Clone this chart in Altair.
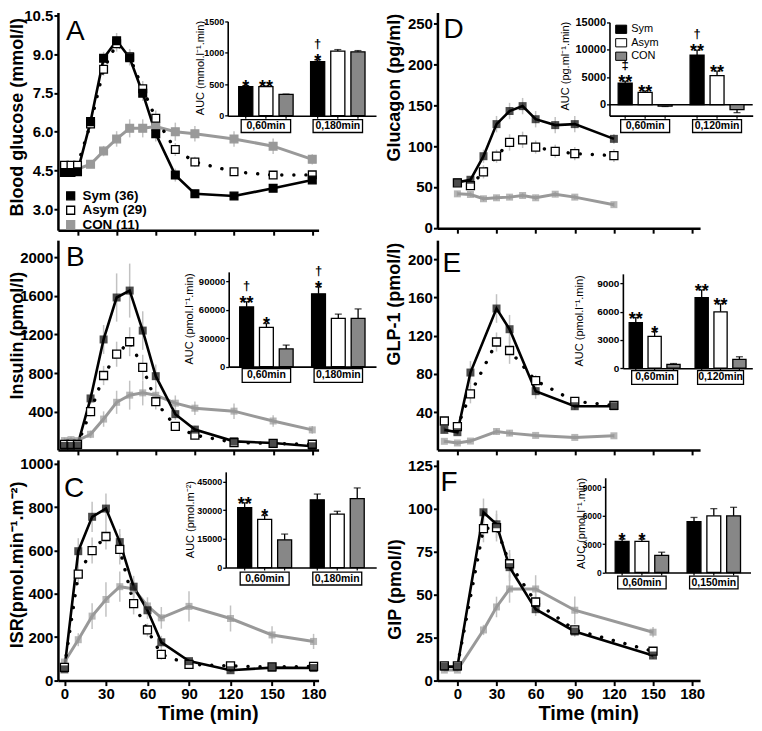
import altair as alt
import pandas as pd

FONT = "Liberation Sans"
SERIES = ["Sym", "Asym", "CON"]
GREY = "#999999"
BAR_GREY = "#878787"
ERR_GREY = "#c2c2c2"
TIME_TICKS = [0, 30, 60, 90, 120, 150, 180]

# ---------------- time courses (mean, SEM) ----------------
A_time = [-10, -5, 0, 10, 20, 30, 40, 50, 60, 75, 90, 120, 150, 180]
A_sym = [4.42, 4.42, 4.45, 6.39, 8.84, 9.52, 8.86, 7.49, 5.92, 4.32, 3.60, 3.51, 3.81, 4.13]
A_asym = [4.70, 4.70, 4.70, 6.30, 8.42, 9.40, 8.90, 7.66, 6.52, 5.31, 4.83, 4.45, 4.32, 4.33]
A_con = [4.50, 4.50, 4.55, 4.74, 5.25, 5.72, 6.13, 6.13, 6.20, 6.00, 5.92, 5.72, 5.44, 4.93]
A_sym_e = [0.1, 0.1, 0.1, 0.2, 0.25, 0.3, 0.3, 0.3, 0.3, 0.25, 0.15, 0.15, 0.12, 0.12]
A_asym_e = [0.1, 0.1, 0.1, 0.2, 0.25, 0.3, 0.3, 0.3, 0.3, 0.25, 0.2, 0.15, 0.15, 0.12]
A_con_e = [0.1, 0.1, 0.1, 0.15, 0.2, 0.3, 0.35, 0.35, 0.35, 0.35, 0.3, 0.3, 0.3, 0.2]

B_time = [-10, -5, 0, 10, 20, 30, 40, 50, 60, 75, 90, 120, 150, 180]
B_sym = [45, 45, 50, 537, 1149, 1584, 1656, 1241, 768, 374, 214, 92, 75, 41]
B_asym = [60, 60, 60, 401, 775, 996, 1125, 860, 503, 248, 156, 80, 70, 62]
B_con = [100, 110, 100, 165, 323, 497, 571, 595, 570, 488, 436, 405, 303, 211]
B_sym_e = [20, 20, 20, 60, 150, 250, 280, 200, 120, 60, 40, 20, 15, 10]
B_asym_e = [15, 15, 15, 50, 100, 130, 150, 130, 80, 40, 30, 15, 15, 10]
B_con_e = [30, 30, 30, 40, 80, 120, 150, 130, 100, 80, 70, 80, 60, 40]

C_time = [0, 10, 20, 30, 40, 50, 60, 70, 90, 120, 150, 180]
C_sym = [51, 597, 756, 794, 639, 433, 324, 176, 89, 47, 59, 57]
C_asym = [60, 491, 600, 665, 605, 355, 233, 120, 74, 67, 62, 65]
C_con = [85, 188, 297, 374, 433, 423, 344, 289, 342, 286, 210, 180]
C_sym_e = [10, 60, 70, 70, 60, 50, 40, 30, 15, 10, 10, 10]
C_asym_e = [10, 50, 60, 60, 70, 50, 30, 25, 15, 10, 10, 10]
C_con_e = [15, 30, 60, 80, 70, 40, 40, 50, 70, 60, 40, 35]

D_time = [0, 10, 20, 30, 40, 50, 60, 75, 90, 120]
D_sym = [55.6, 58.8, 87.6, 126.8, 142.8, 148.8, 132.8, 125.6, 126.8, 108.8]
D_asym = [55.0, 51.6, 68.4, 87.6, 104.4, 107.6, 98.8, 93.6, 90.8, 88.4]
D_con = [41.6, 40.8, 35.6, 36.8, 37.6, 39.6, 36.8, 41.2, 37.6, 28.4]
D_sym_e = [4, 4, 8, 10, 10, 10, 10, 10, 10, 6]
D_asym_e = [4, 4, 8, 8, 10, 10, 8, 8, 8, 8]
D_con_e = [3, 3, 3, 3, 3, 3, 3, 3, 3, 3]

E_time = [-10, 0, 10, 30, 40, 60, 90, 120]
E_sym = [21.3, 18.9, 81.4, 148.5, 126.8, 61.9, 46.1, 46.1]
E_asym = [30.6, 24.7, 59.1, 113.4, 104.5, 72.9, 51.2, 47.0]
E_con = [9.3, 7.6, 9.6, 19.6, 17.9, 15.5, 13.4, 15.1]
E_sym_e = [3, 3, 12, 15, 15, 8, 4, 4]
E_asym_e = [3, 3, 10, 10, 14, 6, 4, 4]
E_con_e = [2, 2, 2, 3, 3, 2, 2, 2]

F_time = [-10, 0, 20, 30, 40, 60, 90, 150]
F_sym = [8.0, 8.0, 98.0, 91.0, 66.0, 41.5, 28.5, 14.5]
F_asym = [8.5, 8.5, 88.5, 89.0, 68.0, 45.7, 29.4, 17.0]
F_con = [6.0, 6.0, 29.4, 42.8, 53.3, 53.3, 40.9, 28.1]
F_sym_e = [2, 2, 8, 8, 8, 4, 3, 2]
F_asym_e = [2, 2, 8, 8, 8, 5, 3, 2]
F_con_e = [1, 1, 3, 6, 8, 8, 8, 3]

LEGEND_N = {"Sym": 36, "Asym": 29, "CON": 11}

# ---------------- AUC insets (mean, SEM, significance marks) ----------------
A_groups = ["0,60min", "0,180min"]
A_auc = {"Sym": [464, 859], "Asym": [464, 1026], "CON": [339, 1015]}
A_auc_e = {"Sym": [15, 30], "Asym": [10, 25], "CON": [5, 20]}
A_star = {"Sym": ["*", "*"], "Asym": ["**", ""], "CON": ["", ""]}
A_dag = {"Sym": ["", "†"], "Asym": ["", ""], "CON": ["", ""]}

B_groups = ["0,60min", "0,180min"]
B_auc = {"Sym": [63000, 76800], "Asym": [41500, 50900], "CON": [18700, 50900]}
B_auc_e = {"Sym": [5500, 7500], "Asym": [4000, 4500], "CON": [4000, 10000]}
B_star = {"Sym": ["**", "*"], "Asym": ["*", ""], "CON": ["", ""]}
B_dag = {"Sym": ["†", "†"], "Asym": ["", ""], "CON": ["", ""]}

C_groups = ["0,60min", "0,180min"]
C_auc = {"Sym": [31300, 35400], "Asym": [25200, 27900], "CON": [14500, 36000]}
C_auc_e = {"Sym": [2500, 3000], "Asym": [2000, 1500], "CON": [3000, 5600]}
C_star = {"Sym": ["**", ""], "Asym": ["*", ""], "CON": ["", ""]}
C_dag = {"Sym": ["", ""], "Asym": ["", ""], "CON": ["", ""]}

D_groups = ["0,60min", "0,120min"]
D_auc = {"Sym": [3900, 9000], "Asym": [2250, 5300], "CON": [-250, -900]}
D_auc_e = {"Sym": [350, 900], "Asym": [250, 800], "CON": [80, 550]}
D_star = {"Sym": ["**", "**"], "Asym": ["**", "**"], "CON": ["", ""]}
D_dag = {"Sym": ["‡", "†"], "Asym": ["", ""], "CON": ["", ""]}

E_groups = ["0,60min", "0,120min"]
E_auc = {"Sym": [4830, 7470], "Asym": [3370, 5980], "CON": [420, 940]}
E_auc_e = {"Sym": [540, 830], "Asym": [520, 850], "CON": [80, 280]}
E_star = {"Sym": ["**", "**"], "Asym": ["*", "**"], "CON": ["", ""]}
E_dag = {"Sym": ["", ""], "Asym": ["", ""], "CON": ["", ""]}

F_groups = ["0,60min", "0,150min"]
F_auc = {"Sym": [3280, 5360], "Asym": [3280, 5980], "CON": [1800, 5980]}
F_auc_e = {"Sym": [250, 450], "Asym": [250, 760], "CON": [340, 900]}
F_star = {"Sym": ["*", ""], "Asym": ["*", ""], "CON": ["", ""]}
F_dag = {"Sym": ["", ""], "Asym": ["", ""], "CON": ["", ""]}

# ---------------- layout (reference pixel calibration) ----------------
K = 0.985
REF_TOP = 4.0
COL_LEFT = {"L": 57, "R": 437}
COL_W = {"L": 261, "R": 263}
PANEL = {
    "A": ("L", 0, 218), "B": ("L", 228, 210), "C": ("L", 448, 221),
    "D": ("R", 0, 216), "E": ("R", 228, 210), "F": ("R", 448, 221),
}
VSPACE = 10
GAP = COL_LEFT["R"] - (COL_LEFT["L"] + COL_W["L"])

BAR_FILL = {"Sym": "black", "Asym": "white", "CON": BAR_GREY}


def ry(ref_y, top):
    return (ref_y - REF_TOP) * K - top


def main_layer(key, time, vals, errs, ycal, xcal, yticks, yfmt, ytitle, ytitle_ref,
               letter_ref, xtitle_ref=None, legend=False):
    col, top, H = PANEL[key]
    left, W = COL_LEFT[col], COL_W[col]
    (v1, p1), (v2, p2) = ycal
    slope = (v2 - v1) / (p2 - p1)
    ydom = [v1 + (REF_TOP + (top + H) / K - p1) * slope, v1 + (REF_TOP + top / K - p1) * slope]
    t0, per = xcal
    xdom = [(left - t0) / per, (left + W - t0) / per]

    rows = []
    for s in SERIES:
        for t, v, e in zip(time, vals[s], errs[s]):
            rows.append({"t": t, "v": v, "lo": v - e, "hi": v + e, "series": s})
    df = pd.DataFrame(rows)

    xkw = dict(values=TIME_TICKS, tickSize=5, tickWidth=2, tickColor="black", domainWidth=2.5,
               domainColor="black", grid=False, labelFlush=False, labelOverlap=False)
    if xtitle_ref:
        xkw.update(labels=True, format="d", labelFont=FONT, labelFontSize=15, labelFontWeight="bold",
                   labelColor="black", labelPadding=1, title="Time (min)", titleFont=FONT,
                   titleFontSize=20, titleFontWeight="bold", titleColor="black",
                   titleX=xtitle_ref[0] - left, titleY=ry(xtitle_ref[1], top) - H,
                   titleBaseline="middle", titleAlign="center")
    else:
        xkw.update(labels=False, title=None)
    X = alt.X("t:Q", scale=alt.Scale(domain=xdom, nice=False, zero=False), axis=alt.Axis(**xkw))
    yaxis = alt.Axis(values=yticks, format=yfmt, tickSize=4, tickWidth=2, tickColor="black",
                     domainWidth=2.5, domainColor="black", grid=False, labelFont=FONT,
                     labelFontSize=15, labelFontWeight="bold", labelColor="black", labelPadding=1,
                     labelOverlap=False, labelFlush=False, title=ytitle, titleFont=FONT,
                     titleFontSize=18, titleFontWeight="bold", titleColor="black", titleAngle=-90,
                     titleX=ytitle_ref[0] - left, titleY=ry(ytitle_ref[1], top),
                     titleBaseline="middle", titleAlign="center")
    yscale = alt.Scale(domain=ydom, nice=False, zero=False)
    Yv = alt.Y("v:Q", scale=yscale, axis=yaxis)
    Ylo = alt.Y("lo:Q", scale=yscale, axis=yaxis)

    base = alt.Chart(df)
    layers = [base.mark_rule(color=ERR_GREY, strokeWidth=1.5).encode(x=X, y=Ylo, y2="hi:Q")]
    line_style = {
        "CON": dict(color=GREY, strokeWidth=3),
        "Asym": dict(color="black", strokeWidth=3.4, strokeDash=[0.1, 12], strokeCap="round"),
        "Sym": dict(color="black", strokeWidth=2.6),
    }
    for s in ["CON", "Asym", "Sym"]:
        layers.append(base.transform_filter(alt.datum.series == s)
                      .mark_line(**line_style[s]).encode(x=X, y=Yv))
    if legend:
        order = {"CON": 0, "Asym": 1, "Sym": 2}
        pdf = df.assign(o=df.series.map(order)).sort_values("o", kind="stable")
        expr = ("datum.label == 'Sym' ? 'Sym (%d)' : datum.label == 'Asym' ? 'Asym (%d)' : 'CON (%d)'"
                % (LEGEND_N["Sym"], LEGEND_N["Asym"], LEGEND_N["CON"]))
        leg = alt.Legend(orient="none", legendX=6, legendY=ry(183.5, top), title=None,
                         symbolType="square", symbolSize=64, symbolStrokeWidth=1.3,
                         labelFont=FONT, labelFontSize=13.5, labelFontWeight="bold",
                         labelColor="black", labelExpr=expr, labelOffset=5, rowPadding=-0.5,
                         padding=0)
        layers.append(alt.Chart(pdf).mark_square(size=60, strokeWidth=1.3, opacity=1).encode(
            x=X, y=Yv,
            fill=alt.Fill("series:N", scale=alt.Scale(domain=SERIES, range=["black", "white", GREY]), legend=leg),
            stroke=alt.Stroke("series:N", scale=alt.Scale(domain=SERIES, range=["black", "black", GREY]), legend=leg),
        ))
    else:
        pstyle = {
            "CON": dict(size=49, color=GREY),
            "Asym": dict(size=64, fill="white", stroke="black", strokeWidth=1.3, opacity=1),
            "Sym": dict(size=64, color="black"),
        }
        for s in ["CON", "Asym", "Sym"]:
            layers.append(base.transform_filter(alt.datum.series == s)
                          .mark_square(**pstyle[s]).encode(x=X, y=Yv))
    layers.append(alt.Chart(pd.DataFrame({"lab": [key]})).mark_text(
        font=FONT, fontSize=28, align="left", baseline="alphabetic", color="black").encode(
        text="lab:N", x=alt.value(letter_ref[0] - left), y=alt.value(ry(letter_ref[1], top))))
    return alt.layer(*layers)


INSET = {
    "A": dict(axis_x=227, y_lo=109, y_hi=13, dom=[0, 1500], ticks=[0, 500, 1000, 1500], b0=238,
              step=72, bw=54.5, box=(113, 126), title="AUC (mmol.l⁻¹.min)", title_ref=(200, 60), lab=9),
    "B": dict(axis_x=228, y_lo=364, y_hi=267.7, dom=[0, 100000], ticks=[0, 30000, 60000, 90000],
              b0=239, step=72, bw=53.5, box=(366, 380), title="AUC (pmol.l⁻¹.min)", title_ref=(189, 315), lab=9.5),
    "C": dict(axis_x=225, y_lo=568.3, y_hi=471, dom=[0, 50000], ticks=[0, 15000, 30000, 45000],
              b0=237, step=72.7, bw=54, box=(573, 586), title="AUC (pmol.m⁻²)", title_ref=(190, 519), lab=9),
    "D": dict(axis_x=609.3, y_lo=108.9, y_hi=14, dom=[-2000, 15000], ticks=[0, 5000, 10000, 15000],
              b0=618, step=72, bw=54, box=(113, 126), title="AUC (pg.ml⁻¹.min)", title_ref=(565, 58), lab=11),
    "E": dict(axis_x=622.7, y_lo=365.7, y_hi=269.7, dom=[0, 10000], ticks=[0, 3000, 6000, 9000],
              b0=629, step=66, bw=51, box=(368, 382), title="AUC (pmol.l⁻¹.min)", title_ref=(579, 317), lab=10),
    "F": dict(axis_x=605, y_lo=573.3, y_hi=477, dom=[0, 10000], ticks=[0, 3000, 6000, 9000],
              b0=615, step=72, bw=53.5, box=(577, 590), title="AUC (pmol.l⁻¹.min)", title_ref=(581, 523), lab=8.5),
}


def inset_layer(key, groups, vals, errs, stars, dags, legend=False, zero_rule=False):
    col, top, H = PANEL[key]
    left = COL_LEFT[col]
    g = INSET[key]
    rows = []
    for s in SERIES:
        for i, grp in enumerate(groups):
            v, e = vals[s][i], errs[s][i]
            rows.append({"grp": grp, "series": s, "val": v, "etop": v + e if v >= 0 else v - e,
                         "fc": BAR_FILL[s], "star": stars[s][i], "dag": dags[s][i]})
    df = pd.DataFrame(rows)
    L = g["axis_x"] - left
    po = (g["b0"] - g["axis_x"]) / g["step"]
    pi = 1 - g["bw"] / g["step"]
    R = L + g["step"] * (2 - pi + 2 * po)
    y0, y1 = ry(g["y_lo"], top), ry(g["y_hi"], top)

    X = alt.X("grp:N", sort=groups,
              scale=alt.Scale(domain=groups, range=[L, R], paddingInner=pi, paddingOuter=po),
              axis=alt.Axis(orient="bottom", offset=y0 - H, labels=False, title=None, ticks=False,
                            domainWidth=1.6, domainColor="black", grid=False))
    XO = alt.XOffset("series:N", sort=SERIES,
                     scale=alt.Scale(domain=SERIES, paddingInner=0.3, paddingOuter=0))
    yscale = alt.Scale(domain=g["dom"], range=[y0, y1], nice=False, zero=False)
    tx, ty = g["title_ref"]
    yaxis = alt.Axis(orient="left", offset=-L, values=g["ticks"], format="d", tickSize=3,
                     tickWidth=1.3, tickColor="black", domainWidth=1.6, domainColor="black",
                     grid=False, labelFont=FONT, labelFontSize=g["lab"], labelFontWeight="bold",
                     labelColor="black", labelPadding=1, labelOverlap=False, labelFlush=False,
                     title=g["title"], titleFont=FONT, titleFontSize=11, titleFontWeight="normal",
                     titleColor="black", titleAngle=-90, titleX=tx - g["axis_x"],
                     titleY=ry(ty, top), titleBaseline="middle", titleAlign="center")
    Yv = alt.Y("val:Q", scale=yscale, axis=yaxis)
    Yt = alt.Y("etop:Q", scale=yscale, axis=yaxis)

    if legend:
        fill = alt.Fill("series:N", scale=alt.Scale(domain=SERIES, range=[BAR_FILL[s] for s in SERIES]),
                        legend=alt.Legend(orient="none", legendX=178, legendY=ry(15, top), title=None,
                                          symbolType="M-1,-0.75H1V0.75H-1Z", symbolSize=121,
                                          symbolStrokeColor="black", symbolStrokeWidth=1,
                                          labelFont=FONT, labelFontSize=11, labelColor="black",
                                          labelOffset=4, rowPadding=-0.5, padding=0))
    else:
        fill = alt.Fill("fc:N", scale=None)

    base = alt.Chart(df)
    layers = []
    if zero_rule:
        layers.append(alt.Chart(pd.DataFrame({"val": [0]})).mark_rule(color="black", strokeWidth=1.4)
                      .encode(y=Yv, x=alt.value(L), x2=alt.value(R)))
    layers += [
        base.mark_rule(color="black", strokeWidth=1.2).encode(
            x=X, xOffset=XO, y=alt.value(y0), y2=alt.value(y0 + 3)),
        base.mark_rule(color="black", strokeWidth=1.3).encode(x=X, xOffset=XO, y=Yv, y2="etop:Q"),
        base.mark_tick(color="black", thickness=1.3, size=7).encode(x=X, xOffset=XO, y=Yt),
        base.mark_bar(stroke="black", strokeWidth=1.3).encode(x=X, xOffset=XO, y=Yv, fill=fill),
        base.mark_text(font=FONT, fontSize=18, fontWeight="bold", baseline="alphabetic", dy=7,
                       color="black").encode(x=X, xOffset=XO, y=Yt, text="star:N"),
        base.mark_text(font=FONT, fontSize=13, fontWeight="bold", baseline="alphabetic", dy=-12,
                       color="black").encode(x=X, xOffset=XO, y=Yt, text="dag:N"),
    ]
    gdf = pd.DataFrame({"grp": groups})
    b_top, b_bot = ry(g["box"][0], top), ry(g["box"][1], top)
    layers += [
        alt.Chart(gdf).mark_bar(size=g["bw"] - 5, fill="white", stroke="black", strokeWidth=1.3)
        .encode(x=X, y=alt.value(b_top), y2=alt.value(b_bot)),
        alt.Chart(gdf).mark_text(font=FONT, fontSize=10.5, fontWeight="bold", baseline="middle",
                                 color="black")
        .encode(x=X, y=alt.value((b_top + b_bot) / 2), text="grp:N"),
    ]
    return alt.layer(*layers)


def panel(key, main, inset):
    col, top, H = PANEL[key]
    return (alt.layer(main, inset)
            .resolve_scale(x="independent", y="independent", fill="independent", stroke="independent")
            .properties(width=COL_W[col], height=H))


def trio(v1, v2, v3):
    return {"Sym": v1, "Asym": v2, "CON": v3}


XCAL_AB = (76.6, 1.306)
XCAL_C = (63.5, 1.386)
XCAL_R = (457.0, 1.306)

pA = panel("A",
           main_layer("A", A_time, trio(A_sym, A_asym, A_con), trio(A_sym_e, A_asym_e, A_con_e),
                      ((10.5, 7), (3.0, 204)), XCAL_AB, [3.0, 4.5, 6.0, 7.5, 9.0, 10.5], ".1f",
                      "Blood glucose (mmol/l)", (16.5, 110), (65, 32), legend=True),
           inset_layer("A", A_groups, A_auc, A_auc_e, A_star, A_dag))
pB = panel("B",
           main_layer("B", B_time, trio(B_sym, B_asym, B_con), trio(B_sym_e, B_asym_e, B_con_e),
                      ((2000, 253), (0, 449)), XCAL_AB, [0, 400, 800, 1200, 1600, 2000], "d",
                      "Insulin (pmol/l)", (17, 332), (65, 262)),
           inset_layer("B", B_groups, B_auc, B_auc_e, B_star, B_dag))
pC = panel("C",
           main_layer("C", C_time, trio(C_sym, C_asym, C_con), trio(C_sym_e, C_asym_e, C_con_e),
                      ((1000, 463), (0, 683)), XCAL_C, [0, 200, 400, 600, 800, 1000], "d",
                      "ISR(pmol.min⁻¹.m⁻²)", (17, 565), (63, 497), xtitle_ref=(207, 717)),
           inset_layer("C", C_groups, C_auc, C_auc_e, C_star, C_dag))
pD = panel("D",
           main_layer("D", D_time, trio(D_sym, D_asym, D_con), trio(D_sym_e, D_asym_e, D_con_e),
                      ((250, 15), (0, 223)), XCAL_R, [0, 50, 100, 150, 200, 250], "d",
                      "Glucagon (pg/ml)", (394.5, 80), (443, 30)),
           inset_layer("D", D_groups, D_auc, D_auc_e, D_star, D_dag, legend=True, zero_rule=True))
pE = panel("E",
           main_layer("E", E_time, trio(E_sym, E_asym, E_con), trio(E_sym_e, E_asym_e, E_con_e),
                      ((200, 255), (0, 449)), XCAL_R, [0, 40, 80, 120, 160, 200], "d",
                      "GLP-1 (pmol/l)", (394.5, 300), (442, 268)),
           inset_layer("E", E_groups, E_auc, E_auc_e, E_star, E_dag))
pF = panel("F",
           main_layer("F", F_time, trio(F_sym, F_asym, F_con), trio(F_sym_e, F_asym_e, F_con_e),
                      ((125, 465), (0, 683)), XCAL_R, [0, 25, 50, 75, 100, 125], "d",
                      "GIP (pmol/l)", (395, 590), (440, 490), xtitle_ref=(588, 717)),
           inset_layer("F", F_groups, F_auc, F_auc_e, F_star, F_dag))

RES = dict(x="independent", y="independent", xOffset="independent", fill="independent",
           stroke="independent")
chart = (alt.concat(pA, pD, pB, pE, pC, pF, columns=2, bounds="flush",
                    spacing={"row": VSPACE, "column": GAP})
         .resolve_scale(**RES)
         .resolve_legend(fill="independent", stroke="independent")
         .properties(padding={"top": -1, "left": 0, "right": 0, "bottom": 0})
         .configure(font=FONT)
         .configure_view(stroke=None))

chart.save("out.html", embed_options={"renderer": "svg", "actions": False})
